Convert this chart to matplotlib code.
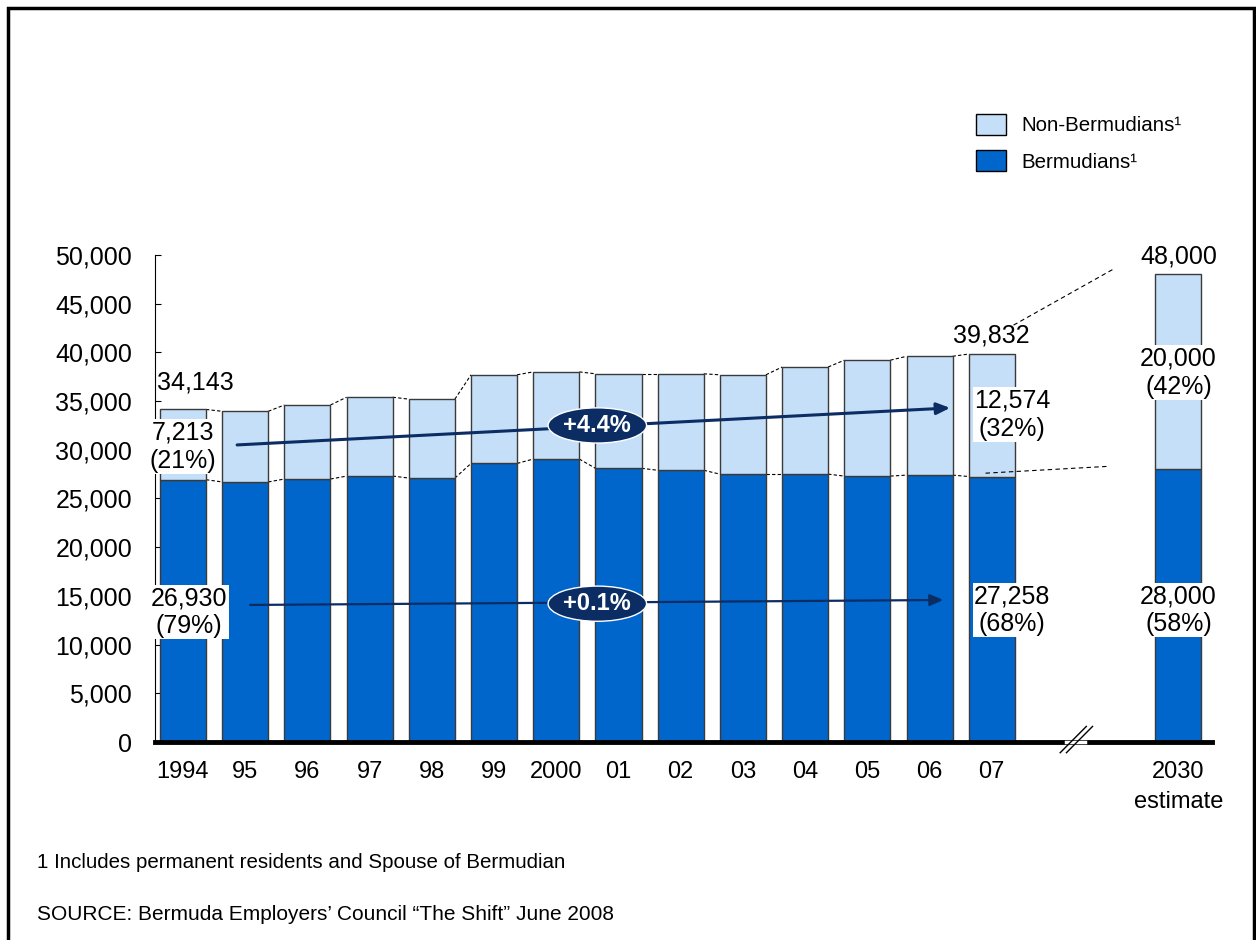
import numpy as np
import matplotlib.pyplot as plt
from matplotlib.patches import Rectangle

plt.rcParams['font.family'] = ['Liberation Sans', 'DejaVu Sans']

years = ['1994', '95', '96', '97', '98', '99', '2000', '01', '02', '03', '04', '05', '06', '07']
bermudians = [26930, 26700, 27000, 27300, 27100, 28600, 29050, 28100, 27900, 27500, 27500, 27300, 27400, 27258]
totals = [34143, 33950, 34600, 35400, 35200, 37700, 38000, 37800, 37800, 37700, 38500, 39200, 39600, 39832]
est_label = '2030\nestimate'
est_bermudians = 28000
est_total = 48000

light = '#c6dff8'
dark = '#0066cc'
navy = '#0b2d64'
edge = '#3a3a3a'

x = np.arange(len(years))
x_est = 16
non_berm = [t - b for t, b in zip(totals, bermudians)]
w = 0.74

fig = plt.figure(figsize=(12.56, 9.4), dpi=100)
ax = fig.add_axes([155 / 1256, 198 / 940, 1057 / 1256, 487 / 940])

ax.bar(x, bermudians, w, color=dark, edgecolor=edge, linewidth=1, zorder=2)
ax.bar(x, non_berm, w, bottom=bermudians, color=light, edgecolor=edge, linewidth=1, zorder=2)
ax.bar(x_est, est_bermudians, w, color=dark, edgecolor=edge, linewidth=1, zorder=2)
ax.bar(x_est, est_total - est_bermudians, w, bottom=est_bermudians, color=light,
       edgecolor=edge, linewidth=1, zorder=2)

# dashed connectors between neighbouring bar tops
for series in (totals, bermudians):
    for i in range(len(years) - 1):
        ax.plot([x[i] + w / 2, x[i + 1] - w / 2], [series[i], series[i + 1]],
                ls=(0, (3, 2)), color='black', lw=0.8, zorder=1)
ax.plot([13.35, 14.94], [42800, 48500], ls=(0, (4, 3)), color='black', lw=0.8, zorder=1)
ax.plot([12.9, 14.87], [27600, 28300], ls=(0, (4, 3)), color='black', lw=0.8, zorder=3)

ax.set_xlim(-0.45, 16.54)
ax.set_ylim(0, 50000)
ax.set_yticks(np.arange(0, 50001, 5000))
ax.set_yticklabels([f'{v:,}' for v in range(0, 50001, 5000)], fontsize=18)
ax.tick_params(axis='y', direction='in', length=4, width=0.8, pad=16.5)
ax.set_xticks(list(x) + [x_est])
ax.set_xticklabels(years + [est_label], fontsize=17, linespacing=1.45)
ax.tick_params(axis='x', length=0, pad=14)
for s in ('top', 'right'):
    ax.spines[s].set_visible(False)
ax.spines['left'].set_linewidth(0.8)
ax.spines['bottom'].set_linewidth(3.5)

# axis break
for dx in (0, 0.1):
    ax.plot([14.1 + dx, 14.52 + dx], [-1100, 1600], color='black', lw=1, clip_on=False, zorder=5)
ax.plot([14.2, 14.5], [0, 0], color='white', lw=2.5, zorder=4, clip_on=False)

box = dict(facecolor='white', edgecolor='none', pad=1)
lab = dict(fontsize=18, ha='center', va='center', linespacing=1.2, zorder=6)
ax.text(-0.42, 36900, f'{totals[0]:,}', ha='left', va='center', fontsize=18, zorder=6)
ax.text(0, 30300, f'{non_berm[0]:,}\n({non_berm[0] / totals[0]:.0%})', bbox=box, **lab)
ax.text(0.1, 13350, f'{bermudians[0]:,}\n({bermudians[0] / totals[0]:.0%})', bbox=box, **lab)
ax.text(13, 41700, f'{totals[-1]:,}', **lab)
ax.text(13.33, 33600, f'{non_berm[-1]:,}\n({non_berm[-1] / totals[-1]:.0%})', bbox=box, **lab)
ax.text(13.33, 13550, f'{bermudians[-1]:,}\n({bermudians[-1] / totals[-1]:.0%})', bbox=box, **lab)
ax.text(x_est, 49800, f'{est_total:,}', **lab)
ax.text(x_est, 37900, f'{est_total - est_bermudians:,}\n({(est_total - est_bermudians) / est_total:.0%})',
        bbox=box, **lab)
ax.text(x_est, 13550, f'{est_bermudians:,}\n({est_bermudians / est_total:.0%})', bbox=box, **lab)

# growth arrows
ax.annotate('', xy=(12.33, 34300), xytext=(0.87, 30500),
            arrowprops=dict(arrowstyle='-|>,head_length=0.8,head_width=0.35', color=navy, lw=2.2,
                            shrinkA=0, shrinkB=0), zorder=7)
ax.annotate('', xy=(12.22, 14580), xytext=(1.08, 14070),
            arrowprops=dict(arrowstyle='-|>,head_length=0.8,head_width=0.35', color=navy, lw=1.6,
                            shrinkA=0, shrinkB=0), zorder=7)
ell = dict(boxstyle='ellipse,pad=0.04', facecolor=navy, edgecolor='white', linewidth=1)
ax.text(6.66, 32500, '+4.4%', color='white', fontsize=17, fontweight='bold', ha='center',
        va='center', bbox=ell, zorder=8)
ax.text(6.66, 14200, '+0.1%', color='white', fontsize=17, fontweight='bold', ha='center',
        va='center', bbox=ell, zorder=8)

# legend
handles = [Rectangle((0, 0), 1, 1, facecolor=light, edgecolor='black', linewidth=1),
           Rectangle((0, 0), 1, 1, facecolor=dark, edgecolor='black', linewidth=1)]
fig.legend(handles, ['Non-Bermudians\u00b9', 'Bermudians\u00b9'], loc='upper left',
           bbox_to_anchor=(957 / 1256, 1 - 95 / 940), frameon=False, fontsize=14.8,
           handlelength=1.5, handleheight=1.2, labelspacing=0.75, handletextpad=0.75)

fig.text(37 / 1256, 1 - 862 / 940, '1 Includes permanent residents and Spouse of Bermudian',
         fontsize=14.8, va='center')
fig.text(37 / 1256, 1 - 914 / 940, 'SOURCE: Bermuda Employers\u2019 Council \u201cThe Shift\u201d June 2008',
         fontsize=15, va='center')

# outer frame
fig.add_artist(Rectangle((8 / 1256, -0.01), 1246 / 1256, 1 - 8 / 940 + 0.01, transform=fig.transFigure,
                         fill=False, edgecolor='black', linewidth=2.5))

fig.savefig('out.png', dpi=100)
